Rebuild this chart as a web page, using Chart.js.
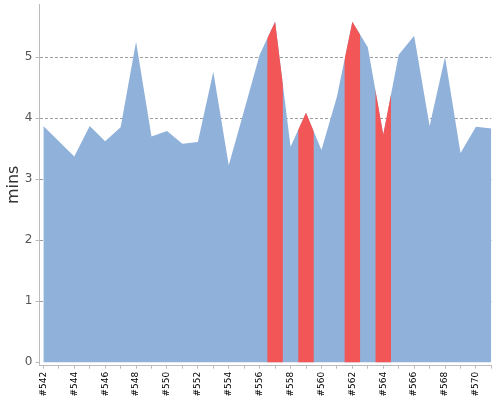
<!DOCTYPE html>
<html>
<head>
<meta charset="utf-8">
<script src="https://cdn.jsdelivr.net/npm/chart.js@4/dist/chart.umd.min.js"></script>
<style>
html,body{margin:0;padding:0;background:#fff;}
#wrap{width:500px;height:400px;}
</style>
</head>
<body>
<div id="wrap"><canvas id="c"></canvas></div>
<script>
const categories = ['#542','#543','#544','#545','#546','#547','#548','#549','#550','#551',
  '#552','#553','#554','#555','#556','#557','#558','#559','#560','#561',
  '#562','#563','#564','#565','#566','#567','#568','#569','#570','#571'];
const minsValues = [3.87, 3.62, 3.37, 3.87, 3.62, 3.85, 5.25, 3.70, 3.79, 3.58,
  3.61, 4.76, 3.23, 4.13, 5.04, 5.58, 3.53, 4.09, 3.48, 4.35,
  5.58, 5.16, 3.73, 5.04, 5.35, 3.87, 5.00, 3.43, 3.86, 3.83];
const highlighted = ['#557','#559','#562','#564'];
const yTicks = [0, 1, 2, 3, 4, 5];

const points = minsValues.map((v, i) => ({x: i, y: v}));

const bandClip = {
  id: 'bandClip',
  afterDatasetDraw(chart, args) {
    const {ctx, chartArea, scales} = chart;
    if (args.index === 0) {
      ctx.save();
      ctx.beginPath();
      highlighted.forEach(lbl => {
        const i = categories.indexOf(lbl);
        const x0 = scales.x.getPixelForValue(i - 0.5);
        const x1 = scales.x.getPixelForValue(i + 0.5);
        ctx.rect(x0, chartArea.top, x1 - x0, chartArea.bottom - chartArea.top);
      });
      ctx.clip();
    } else if (args.index === 1) {
      ctx.restore();
    }
  }
};

new Chart(document.getElementById('c'), {
  type: 'line',
  data: {
    datasets: [
      {
        data: points,
        order: 2,
        fill: 'origin',
        backgroundColor: '#8fb1da',
        borderColor: 'rgba(0,0,0,0)',
        borderWidth: 0,
        pointRadius: 0,
        tension: 0
      },
      {
        data: points,
        order: 1,
        fill: 'origin',
        backgroundColor: '#f25656',
        borderColor: 'rgba(0,0,0,0)',
        borderWidth: 0,
        pointRadius: 0,
        tension: 0
      }
    ]
  },
  options: {
    responsive: true,
    maintainAspectRatio: false,
    animation: false,
    layout: {padding: {top: 4, right: 8.6, left: 0, bottom: 0}},
    plugins: {legend: {display: false}, tooltip: {enabled: false}},
    scales: {
      x: {
        type: 'linear',
        min: -0.25,
        max: 29,
        afterBuildTicks: s => { s.ticks = categories.map((_, i) => ({value: i})); },
        afterFit: s => { s.height = 34.3; s.paddingLeft = 0; s.paddingRight = 0; },
        grid: {display: true, drawOnChartArea: false, drawTicks: true, tickLength: 3, tickColor: '#bbb'},
        border: {display: true, color: '#bbb'},
        ticks: {
          autoSkip: false,
          maxRotation: 90,
          minRotation: 90,
          padding: 3,
          color: '#000',
          font: {family: 'DejaVu Sans', size: 9},
          callback: v => (v % 2 === 0 ? categories[v] : '')
        }
      },
      y: {
        min: -0.056,
        max: 5.87,
        z: 1,
        afterBuildTicks: s => { s.ticks = yTicks.map(v => ({value: v})); },
        afterFit: s => { s.width = 39.5; s.paddingTop = 0; s.paddingBottom = 0; },
        grid: {
          color: c => (c.tick && c.tick.value === 0 ? 'rgba(0,0,0,0)' : 'rgba(0,0,0,0.38)'),
          drawTicks: true,
          tickLength: 4,
          tickColor: '#bbb'
        },
        border: {display: true, color: '#bbb', dash: [3, 2]},
        ticks: {
          padding: 3,
          color: '#555',
          font: {family: 'DejaVu Sans', size: 12},
          callback: v => String(v)
        },
        title: {
          display: true,
          text: 'mins',
          color: '#333',
          padding: {top: 4, bottom: 0},
          font: {family: 'DejaVu Sans', size: 16}
        }
      }
    }
  },
  plugins: [bandClip]
});
</script>
</body>
</html>
